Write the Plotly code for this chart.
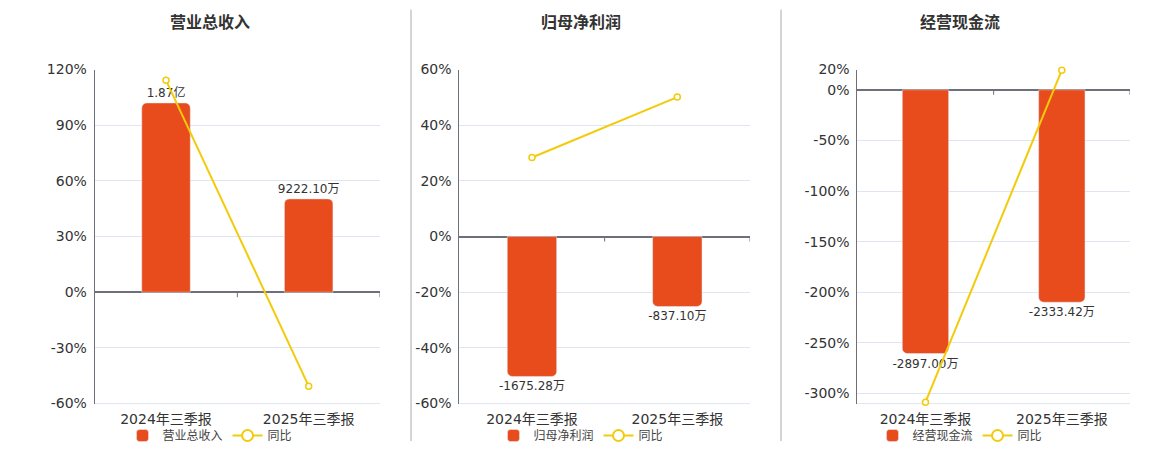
import plotly.graph_objects as go

# data (bar values in 万, yoy in %)
categories = ["2024年三季报", "2025年三季报"]

revenue = [18700.00, 9222.10]
revenue_labels = ["1.87亿", "9222.10万"]
revenue_yoy = [114.2, -50.6]

profit = [-1675.28, -837.10]
profit_labels = ["-1675.28万", "-837.10万"]
profit_yoy = [28.4, 50.1]

cashflow = [-2897.00, -2333.42]
cashflow_labels = ["-2897.00万", "-2333.42万"]
cashflow_yoy = [-308.6, 19.4]

titles = ["营业总收入", "归母净利润", "经营现金流"]

BAR_COLOR = "#E84C1D"
LINE_COLOR = "#F2CB0A"
AXIS_COLOR = "#6E7079"
GRID_COLOR = "#E0E6F1"
FONT = "DejaVu Sans, Noto Sans CJK SC, sans-serif"

W, H = 1160, 450


def py(y_px):
    # screen pixel (from top) -> paper fraction, corrected for how the page gets shown
    y_fig = (y_px - 8.4) / 0.963
    return (H - y_fig) / H


panels = [
    dict(title=titles[0], bars=revenue, labels=revenue_labels, yoy=revenue_yoy,
         xdom=(94.7, 380), center=210, pct_range=[-60, 120],
         ticks=[-60, -30, 0, 30, 60, 90, 120], bar_range=[-11000, 22000]),
    dict(title=titles[1], bars=profit, labels=profit_labels, yoy=profit_yoy,
         xdom=(459.3, 750), center=581, pct_range=[-60, 60],
         ticks=[-60, -40, -20, 0, 20, 40, 60], bar_range=[-2000, 2000]),
    dict(title=titles[2], bars=cashflow, labels=cashflow_labels, yoy=cashflow_yoy,
         xdom=(857.3, 1130), center=960, pct_range=[-310, 20],
         ticks=[-300, -250, -200, -150, -100, -50, 0, 20], bar_range=[-3447, 222.4]),
]

ydom = [py(404.3), py(70)]

fig = go.Figure()
layout = dict(
    width=W, height=H,
    margin=dict(l=0, r=0, t=0, b=0),
    paper_bgcolor="white", plot_bgcolor="white",
    font=dict(family=FONT, color="#333333", size=12),
    bargap=0.66,
    showlegend=True,
    annotations=[], shapes=[],
)

for i, p in enumerate(panels):
    n = i + 1
    xs = "" if n == 1 else str(n)
    x_id = "x" + xs
    y_pct = "y" + xs
    y_bar = "y" + str(n + 3)
    y_line = "y" + str(n + 6)
    leg = "legend" if n == 1 else "legend" + str(n)

    fig.add_trace(go.Bar(
        x=categories, y=p["bars"], text=p["labels"],
        textposition="outside", cliponaxis=False, constraintext="none",
        textfont=dict(size=12, color="#333333"),
        marker=dict(color=BAR_COLOR, cornerradius=5),
        name=p["title"], xaxis=x_id, yaxis=y_bar, legend=leg,
    ))
    fig.add_trace(go.Scatter(
        x=categories, y=p["yoy"], mode="lines+markers",
        line=dict(color=LINE_COLOR, width=2),
        marker=dict(symbol="circle", size=6, color="white",
                    line=dict(color=LINE_COLOR, width=1.5)),
        name="同比", xaxis=x_id, yaxis=y_line, showlegend=False, cliponaxis=False,
    ))
    # legend entry for the yoy line (bigger hollow circle, like the original)
    fig.add_trace(go.Scatter(
        x=[None], y=[None], mode="lines+markers",
        line=dict(color=LINE_COLOR, width=2),
        marker=dict(symbol="circle", size=11, color="white",
                    line=dict(color=LINE_COLOR, width=2)),
        name="同比", xaxis=x_id, yaxis=y_line, legend=leg, hoverinfo="skip",
    ))

    xdom = [p["xdom"][0] / W, p["xdom"][1] / W]
    layout["xaxis" + xs] = dict(
        domain=xdom, anchor=y_pct, type="category", range=[-0.5, 1.5],
        showgrid=False, showline=False, ticks="", zeroline=False,
        ticklabelstandoff=5,
        tickfont=dict(size=14, color="#333333"), fixedrange=True,
    )
    layout["yaxis" + xs] = dict(
        domain=ydom, anchor=x_id, range=p["pct_range"],
        tickvals=p["ticks"], ticktext=[f"{v}%" for v in p["ticks"]],
        showgrid=True, gridcolor=GRID_COLOR, gridwidth=1,
        zeroline=True, zerolinecolor=AXIS_COLOR, zerolinewidth=1.6,
        showline=True, linecolor=AXIS_COLOR, linewidth=1,
        ticks="", ticklabelstandoff=4,
        tickfont=dict(size=14, color="#333333"),
    )
    layout["yaxis" + str(n + 3)] = dict(
        domain=ydom, anchor=x_id, overlaying=y_pct, range=p["bar_range"],
        visible=False, showgrid=False, zeroline=False,
    )
    layout["yaxis" + str(n + 6)] = dict(
        domain=ydom, anchor=x_id, overlaying=y_pct, range=p["pct_range"],
        visible=False, showgrid=False, zeroline=False,
    )
    layout[leg] = dict(
        orientation="h", x=p["center"] / W, xanchor="center",
        y=py(436.5), yanchor="middle",
        font=dict(size=12, color="#444444"), itemsizing="trace",
        bgcolor="rgba(0,0,0,0)", tracegroupgap=0,
    )

    # panel title
    layout["annotations"].append(dict(
        text="<b>" + p["title"] + "</b>", x=p["center"] / W, y=py(23),
        xref="paper", yref="paper", showarrow=False,
        font=dict(size=16, color="#333333"), xanchor="center", yanchor="middle",
    ))
    # small tick marks on the zero line between / after categories
    for tx in [0.5, 1.5]:
        layout["shapes"].append(dict(
            type="line", xref=x_id, yref=y_pct, x0=tx, x1=tx,
            ysizemode="pixel", yanchor=0, y0=0, y1=-5,
            line=dict(color=AXIS_COLOR, width=1),
        ))
    # bottom boundary line
    layout["shapes"].append(dict(
        type="line", xref=x_id + " domain", yref="paper", x0=0, x1=1,
        y0=ydom[0], y1=ydom[0], line=dict(color=GRID_COLOR, width=1), layer="below",
    ))

# separators between panels
for sx in [411, 781]:
    layout["shapes"].append(dict(
        type="line", xref="paper", yref="paper", x0=sx / W, x1=sx / W,
        y0=max(py(443), 0), y1=min(py(10), 1), line=dict(color="#AAAAAA", width=1),
    ))

fig.update_layout(**layout)
# keep the 1160x450 figure flush with the window (no body margin / scrollbars)
fig.write_html(
    "out.html",
    config={"displayModeBar": False},
    post_script="document.body.style.margin='0';document.body.style.overflow='hidden';",
)
